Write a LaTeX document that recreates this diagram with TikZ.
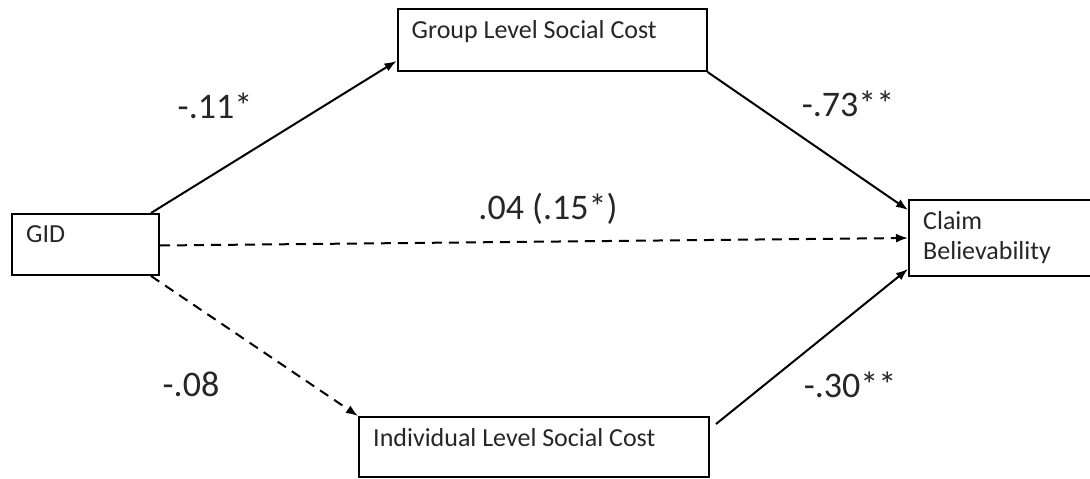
\documentclass[tikz,border=0pt]{standalone}
\usepackage{fontspec}
\setmainfont{Carlito}
\usepackage{tikz}
\usetikzlibrary{arrows.meta}
\usetikzlibrary{positioning}

\tikzset{
  varbox/.style={rectangle, draw=black, line width=2pt, inner sep=0pt},
  boxtext/.style={anchor=north west, align=left, inner xsep=15pt, inner ysep=12pt,
    font=\fontsize{26}{30}\selectfont, text=black!85},
  coef/.style={inner sep=0pt, font=\fontsize{36}{40}\selectfont, text=black!85},
  link/.style={-{Latex[length=12pt,width=9pt]}, line width=2pt, draw=black},
  dashlink/.style={link, dash pattern=on 10pt off 7pt}
}

\begin{document}
\begin{tikzpicture}[x=1pt, y=-1pt]
\useasboundingbox (0,0) rectangle (1090,479);

\node [varbox, minimum width=309pt, minimum height=62pt] (GSC) at (552,40) {};
\node [varbox, minimum width=147pt, minimum height=61pt] (GID) at (85.5,244.5) {};
\node [varbox, minimum width=186pt, minimum height=76pt] (CB) at (1002,238) {};
\node [varbox, minimum width=350pt, minimum height=60pt] (ISC) at (534,447) {};

\node [boxtext] (GIDtxt) at (GID.north west) {GID};
\node [boxtext] (GSCtxt) at (GSC.north west) {Group Level Social Cost};
\node [boxtext] (CBtxt) at (CB.north west) {Claim\\Believability};
\node [boxtext] (ISCtxt) at (ISC.north west) {Individual Level Social Cost};

\node [coef] (a1) at (215,106) {-.11*};
\node [coef] (b1) at (848,104) {-.73**};
\node [coef] (c1) at (548,209) {.04 (.15*)};
\node [coef] (a2) at (191,384) {-.08};
\node [coef] (b2) at (850,385) {-.30**};

\draw [link] ([xshift=-9pt]GID.north east) to ([yshift=11pt]GSC.south west);
\draw [link] (GSC.south east) to ([yshift=-11pt]CB.north west);
\draw [dashlink] ([yshift=-1pt]GID.east) to (CB.west);
\draw [dashlink] ([xshift=-9pt]GID.south east) to (ISC.north west);
\draw [link] ([xshift=6pt,yshift=-8pt]ISC.north east) to ([yshift=8pt]CB.south west);
\end{tikzpicture}
\end{document}
